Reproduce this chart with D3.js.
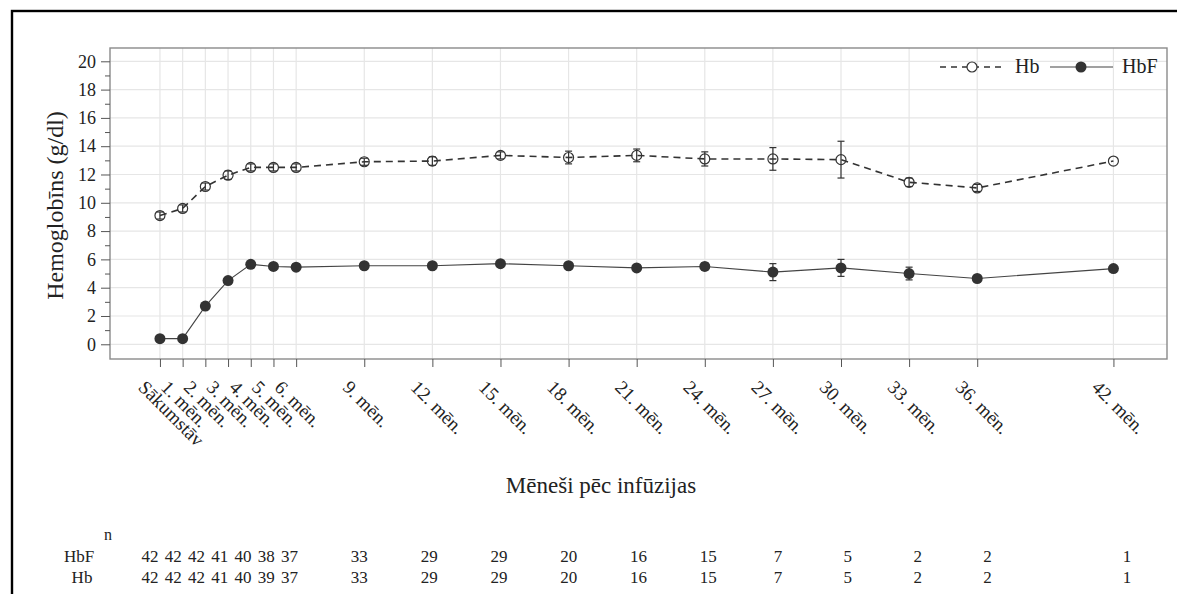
<!DOCTYPE html>
<html>
<head>
<meta charset="utf-8">
<script src="https://cdn.jsdelivr.net/npm/d3@7"></script>
<style>
  html, body { margin: 0; padding: 0; background: #fff; overflow: hidden; }
  svg { display: block; }
  text { font-family: "Liberation Serif", "Times New Roman", serif; fill: #222; }
</style>
</head>
<body>
<svg id="chart" width="1177" height="594"></svg>
<script>
// ---- data ----
const months = [0, 1, 2, 3, 4, 5, 6, 9, 12, 15, 18, 21, 24, 27, 30, 33, 36, 42];
const tickLabels = ["Sākumstāv", "1. mēn.", "2. mēn.", "3. mēn.", "4. mēn.", "5. mēn.", "6. mēn.",
  "9. mēn.", "12. mēn.", "15. mēn.", "18. mēn.", "21. mēn.", "24. mēn.", "27. mēn.",
  "30. mēn.", "33. mēn.", "36. mēn.", "42. mēn."];
const hbMean = [9.1, 9.6, 11.15, 11.95, 12.5, 12.5, 12.5, 12.9, 12.95, 13.35, 13.2, 13.35, 13.1, 13.1, 13.05, 11.45, 11.05, 12.95];
const hbErr = [0.25, 0.25, 0.25, 0.3, 0.25, 0.25, 0.25, 0.25, 0.3, 0.25, 0.45, 0.45, 0.5, 0.8, 1.3, 0.3, 0.25, 0.0];
const hbfMean = [0.4, 0.4, 2.7, 4.5, 5.65, 5.5, 5.45, 5.55, 5.55, 5.7, 5.55, 5.4, 5.5, 5.1, 5.4, 5.0, 4.65, 5.35];
const hbfErr = [0.2, 0.2, 0.2, 0.2, 0.2, 0.2, 0.2, 0.2, 0.2, 0.15, 0.2, 0.2, 0.25, 0.6, 0.6, 0.45, 0.2, 0.2];
const nHbF = [42, 42, 42, 41, 40, 38, 37, 33, 29, 29, 20, 16, 15, 7, 5, 2, 2, 1];
const nHb = [42, 42, 42, 41, 40, 39, 37, 33, 29, 29, 20, 16, 15, 7, 5, 2, 2, 1];
const yTicks = [0, 2, 4, 6, 8, 10, 12, 14, 16, 18, 20];
const yMinorTicks = [1, 3, 5, 7, 9, 11, 13, 15, 17, 19];
const seriesNames = ["Hb", "HbF"];
const yTitle = "Hemoglobīns (g/dl)";
const xTitle = "Mēneši pēc infūzijas";

// ---- layout ----
const svg = d3.select("#chart");
const L = 110, R = 1167, T = 48, B = 359;
const x = d3.scaleLinear().domain([-2.2, 44.36]).range([L, R]);
const y = d3.scaleLinear().domain([-1.04, 20.94]).range([B, T]);
const xTable = d3.scaleLinear().domain([0, 42]).range([150, 1127]);
const ink = "#333";

// outer black border
svg.append("rect").attr("x", 12).attr("y", 11).attr("width", 1190).attr("height", 620)
  .attr("fill", "none").attr("stroke", "#000").attr("stroke-width", 2.4);

// grid
const grid = svg.append("g");
grid.selectAll("line.h").data(yTicks).join("line")
  .attr("x1", L).attr("x2", R).attr("y1", d => y(d)).attr("y2", d => y(d))
  .attr("stroke", "#e6e6e6").attr("stroke-width", 1.2);
grid.selectAll("line.v").data(months).join("line")
  .attr("y1", T).attr("y2", B).attr("x1", d => x(d)).attr("x2", d => x(d))
  .attr("stroke", "#e6e6e6").attr("stroke-width", 1.2);

// frame
svg.append("rect").attr("x", L).attr("y", T).attr("width", R - L).attr("height", B - T)
  .attr("fill", "none").attr("stroke", "#8a8a8a").attr("stroke-width", 1.4);

// y axis
const yAxis = svg.append("g").attr("transform", `translate(${L},0)`)
  .call(d3.axisLeft(y).tickValues(yTicks).tickSize(9).tickPadding(5).tickFormat(d3.format("d")));
yAxis.select(".domain").remove();
yAxis.selectAll(".tick line").attr("stroke", "#555");
yAxis.selectAll(".tick text").attr("font-size", 18).attr("fill", "#444")
  .style("font-family", "'Liberation Serif', serif");
const yMinor = svg.append("g").attr("transform", `translate(${L},0)`)
  .call(d3.axisLeft(y).tickValues(yMinorTicks).tickSize(5).tickFormat(""));
yMinor.select(".domain").remove();
yMinor.selectAll(".tick line").attr("stroke", "#555");

// x axis
const xAxis = svg.append("g").attr("transform", `translate(0,${B})`)
  .call(d3.axisBottom(x).tickValues(months).tickSize(8).tickFormat(""));
xAxis.select(".domain").remove();
xAxis.selectAll(".tick line").attr("stroke", "#555");

svg.append("g").selectAll("text").data(months).join("text")
  .attr("transform", d => `translate(${x(d) - 13},${B + 20}) rotate(45)`)
  .attr("text-anchor", "start").attr("dominant-baseline", "hanging")
  .attr("font-size", 19).attr("fill", "#111")
  .text((d, i) => tickLabels[i]);

// axis titles
svg.append("text").attr("transform", `translate(63,${(T + B) / 2 + 2}) rotate(-90)`)
  .attr("text-anchor", "middle").attr("font-size", 24).attr("fill", "#111").text(yTitle);
svg.append("text").attr("x", 601).attr("y", 493).attr("text-anchor", "middle")
  .attr("font-size", 23).attr("fill", "#111").text(xTitle);

// series
const hbData = months.map((m, i) => ({ m, v: hbMean[i], e: hbErr[i] }));
const hbfData = months.map((m, i) => ({ m, v: hbfMean[i], e: hbfErr[i] }));
const line = d3.line().x(d => x(d.m)).y(d => y(d.v));

svg.append("path").datum(hbData).attr("d", line).attr("fill", "none")
  .attr("stroke", ink).attr("stroke-width", 1.6).attr("stroke-dasharray", "7,5");
svg.append("path").datum(hbfData).attr("d", line).attr("fill", "none")
  .attr("stroke", "#444").attr("stroke-width", 1.1);

function errorBars(data) {
  const g = svg.append("g").attr("stroke", ink).attr("stroke-width", 1.2);
  const withErr = data.filter(d => d.e > 0);
  g.selectAll("line.v").data(withErr).join("line")
    .attr("x1", d => x(d.m)).attr("x2", d => x(d.m))
    .attr("y1", d => y(d.v - d.e)).attr("y2", d => y(d.v + d.e));
  g.selectAll("line.t").data(withErr).join("line")
    .attr("x1", d => x(d.m) - 3.5).attr("x2", d => x(d.m) + 3.5)
    .attr("y1", d => y(d.v + d.e)).attr("y2", d => y(d.v + d.e));
  g.selectAll("line.b").data(withErr).join("line")
    .attr("x1", d => x(d.m) - 3.5).attr("x2", d => x(d.m) + 3.5)
    .attr("y1", d => y(d.v - d.e)).attr("y2", d => y(d.v - d.e));
}

svg.append("g").selectAll("circle").data(hbfData).join("circle")
  .attr("cx", d => x(d.m)).attr("cy", d => y(d.v)).attr("r", 5.5).attr("fill", ink);
errorBars(hbfData);
errorBars(hbData);
svg.append("g").selectAll("circle").data(hbData).join("circle")
  .attr("cx", d => x(d.m)).attr("cy", d => y(d.v)).attr("r", 5)
  .attr("fill", "none").attr("stroke", ink).attr("stroke-width", 1.2);

// legend
const lg = svg.append("g");
lg.append("line").attr("x1", 940).attr("x2", 1005).attr("y1", 67).attr("y2", 67)
  .attr("stroke", ink).attr("stroke-width", 1.5).attr("stroke-dasharray", "6,5");
lg.append("circle").attr("cx", 972).attr("cy", 67).attr("r", 5).attr("fill", "#fff")
  .attr("stroke", ink).attr("stroke-width", 1.2);
lg.append("text").attr("x", 1015).attr("y", 73).attr("font-size", 20).attr("fill", "#111").text(seriesNames[0]);
lg.append("line").attr("x1", 1050).attr("x2", 1113).attr("y1", 67).attr("y2", 67)
  .attr("stroke", "#444").attr("stroke-width", 1.1);
lg.append("circle").attr("cx", 1081).attr("cy", 67).attr("r", 5.5).attr("fill", ink);
lg.append("text").attr("x", 1122).attr("y", 73).attr("font-size", 20).attr("fill", "#111").text(seriesNames[1]);

// n table
const tbl = svg.append("g");
tbl.append("text").attr("x", 108).attr("y", 540).attr("text-anchor", "middle")
  .attr("font-size", 16).attr("fill", "#111").text("n");
tbl.append("text").attr("x", 79).attr("y", 562).attr("text-anchor", "middle")
  .attr("font-size", 17).attr("fill", "#111").text(seriesNames[1]);
tbl.append("text").attr("x", 82).attr("y", 583).attr("text-anchor", "middle")
  .attr("font-size", 17).attr("fill", "#111").text(seriesNames[0]);
tbl.selectAll("text.f").data(months).join("text")
  .attr("x", d => xTable(d)).attr("y", 562).attr("text-anchor", "middle")
  .attr("font-size", 17).attr("fill", "#111").text((d, i) => nHbF[i]);
tbl.selectAll("text.b").data(months).join("text")
  .attr("x", d => xTable(d)).attr("y", 583).attr("text-anchor", "middle")
  .attr("font-size", 17).attr("fill", "#111").text((d, i) => nHb[i]);
</script>
</body>
</html>
